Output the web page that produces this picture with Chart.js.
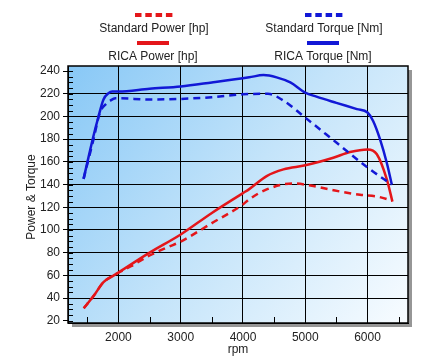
<!DOCTYPE html>
<html>
<head>
<meta charset="utf-8">
<script src="https://cdn.jsdelivr.net/npm/chart.js@4"></script>
<style>
  body { margin: 0; background: #fff; }
  #wrap { width: 427px; height: 360px; position: relative; }
</style>
</head>
<body>
<div id="wrap"><canvas id="dyno"></canvas></div>
<script>
// values
const rpmStdPower = [1443, 1600, 1760, 1920, 2000, 2200, 2500, 2800, 3000, 3500, 4000, 4100, 4380, 4800, 5000, 5450, 5880, 6150, 6390];
const stdPower = [31, 41.7, 54, 59.8, 62.3, 68, 77.5, 85, 89.8, 106, 122.5, 127, 135.7, 141, 140, 135, 131, 129.5, 126];

const rpmRicaPower = [1443, 1600, 1760, 1920, 2000, 2500, 3000, 3500, 4000, 4100, 4380, 4650, 5000, 5450, 5720, 6000, 6150, 6310, 6400];
const ricaPower = [31, 41.7, 54, 59.8, 62.5, 80, 96, 115, 132.5, 136, 147.5, 153.4, 157, 163.7, 168.7, 171, 166.7, 144.6, 125];

const rpmStdTorque = [1440, 1600, 1700, 1800, 1870, 1950, 2000, 2500, 3000, 3500, 4000, 4400, 4650, 5000, 5500, 6000, 6390];
const stdTorque = [145, 180, 203, 211, 214, 216, 216, 215, 215.5, 217, 219.5, 220, 214, 199, 177, 155, 140];

const rpmRicaTorque = [1440, 1600, 1680, 1760, 1840, 1900, 2000, 2500, 3000, 3500, 4100, 4330, 4540, 4760, 5000, 5180, 5500, 5830, 6000, 6090, 6200, 6310, 6390];
const ricaTorque = [145, 183, 200, 215, 220.5, 222, 222, 224.5, 226.5, 230, 234.5, 236.5, 234.5, 230, 221, 217.5, 212, 206.5, 203.5, 196, 180, 159, 140];

const xTicks = [2000, 3000, 4000, 5000, 6000];
const yTicks = [20, 40, 60, 80, 100, 120, 140, 160, 180, 200, 220, 240];

const RED = 'rgb(228,22,26)';
const BLUE = 'rgb(18,24,214)';
const FONT = '"Liberation Sans", Arial, sans-serif';

function pts(xs, ys) {
    return xs.map((x, i) => ({ x: x, y: ys[i] }));
}

const sheetPlugin = {
    id: 'sheet',
    beforeDraw(chart) {
        const { ctx, chartArea: a } = chart;
        ctx.save();
        // drop shadow
        ctx.fillStyle = 'rgb(150,150,150)';
        ctx.fillRect(a.left + 4, a.top + 4, a.right - a.left, a.bottom - a.top);
        // blue gradient plot background
        const g = ctx.createLinearGradient(a.left, a.top, a.right, a.bottom);
        g.addColorStop(0, 'rgb(136,200,246)');
        g.addColorStop(0.5, 'rgb(196,228,250)');
        g.addColorStop(1, 'rgb(248,252,255)');
        ctx.fillStyle = g;
        ctx.fillRect(a.left, a.top, a.right - a.left, a.bottom - a.top);
        ctx.restore();
    },
    afterDraw(chart) {
        const { ctx, chartArea: a, scales } = chart;
        ctx.save();
        ctx.strokeStyle = '#000';
        ctx.lineWidth = 1;
        // minor ticks inside the frame
        ctx.beginPath();
        for (let v = 20; v <= 240; v += 5) {
            const y = Math.round(scales.y.getPixelForValue(v)) + 0.5;
            ctx.moveTo(a.left, y);
            ctx.lineTo(a.left + 5, y);
        }
        for (let v = 1500; v <= 6500; v += 500) {
            if (v % 1000 === 0) continue;
            const x = Math.round(scales.x.getPixelForValue(v)) + 0.5;
            ctx.moveTo(x, a.bottom);
            ctx.lineTo(x, a.bottom - 6);
        }
        ctx.stroke();
        // frame
        ctx.lineWidth = 1.5;
        ctx.strokeRect(a.left, a.top, a.right - a.left, a.bottom - a.top);

        // axis titles
        ctx.fillStyle = '#222';
        ctx.font = '12px ' + FONT;
        ctx.textAlign = 'center';
        ctx.textBaseline = 'middle';
        ctx.fillText('rpm', 238, 350);
        ctx.save();
        ctx.translate(32, 197);
        ctx.rotate(-Math.PI / 2);
        ctx.fillText('Power & Torque', 0, 0);
        ctx.restore();

        // legend
        const items = [
            { text: 'Standard Power [hp]', color: RED, dash: true, x: 154, y: 29, sy: 15 },
            { text: 'Standard Torque [Nm]', color: BLUE, dash: true, x: 324, y: 29, sy: 15 },
            { text: 'RICA Power [hp]', color: RED, dash: false, x: 153, y: 57, sy: 43 },
            { text: 'RICA Torque [Nm]', color: BLUE, dash: false, x: 323, y: 57, sy: 43 }
        ];
        items.forEach(it => {
            ctx.fillStyle = it.color;
            if (it.dash) {
                for (let k = 0; k < 4; k++) {
                    ctx.fillRect(it.x - 19 + k * 10.3, it.sy - 2, 6.5, 4);
                }
            } else {
                ctx.fillRect(it.x - 16, it.sy - 2, 32, 4);
            }
            ctx.fillStyle = '#222';
            ctx.fillText(it.text, it.x, it.y);
        });
        ctx.restore();
    }
};

const ctx = document.getElementById('dyno').getContext('2d');
new Chart(ctx, {
    type: 'line',
    data: {
        datasets: [{
            label: 'Standard Power [hp]',
            data: pts(rpmStdPower, stdPower),
            borderColor: RED,
            borderDash: [7, 5],
            borderWidth: 2.5
        }, {
            label: 'Standard Torque [Nm]',
            data: pts(rpmStdTorque, stdTorque),
            borderColor: BLUE,
            borderDash: [7, 5],
            borderWidth: 2.5
        }, {
            label: 'RICA Power [hp]',
            data: pts(rpmRicaPower, ricaPower),
            borderColor: RED,
            borderWidth: 2.5
        }, {
            label: 'RICA Torque [Nm]',
            data: pts(rpmRicaTorque, ricaTorque),
            borderColor: BLUE,
            borderWidth: 2.5
        }]
    },
    options: {
        responsive: true,
        maintainAspectRatio: false,
        animation: false,
        layout: { padding: { top: 66, right: 19, left: 0, bottom: 0 } },
        elements: {
            point: { radius: 0 },
            line: { cubicInterpolationMode: 'monotone', fill: false }
        },
        scales: {
            x: {
                type: 'linear',
                min: 1190,
                max: 6650,
                afterBuildTicks: s => { s.ticks = xTicks.map(v => ({ value: v })); },
                afterFit: s => { s.height = 37; },
                grid: { color: '#000', drawTicks: false },
                border: { color: '#000' },
                ticks: {
                    padding: 7, color: '#222', font: { size: 12, family: FONT },
                    callback: v => String(v)
                }
            },
            y: {
                min: 18,
                max: 244.5,
                afterBuildTicks: s => { s.ticks = yTicks.map(v => ({ value: v })); },
                afterFit: s => { s.width = 68; },
                grid: {
                    color: c => (c.tick && (c.tick.value === 240 || c.tick.value === 20)) ? 'rgba(0,0,0,0)' : '#000',
                    tickColor: '#000',
                    tickLength: 5
                },
                border: { color: '#000' },
                ticks: { padding: 3, color: '#222', font: { size: 12, family: FONT } }
            }
        },
        plugins: {
            legend: { display: false },
            tooltip: { enabled: false }
        }
    },
    plugins: [sheetPlugin]
});
</script>
</body>
</html>
